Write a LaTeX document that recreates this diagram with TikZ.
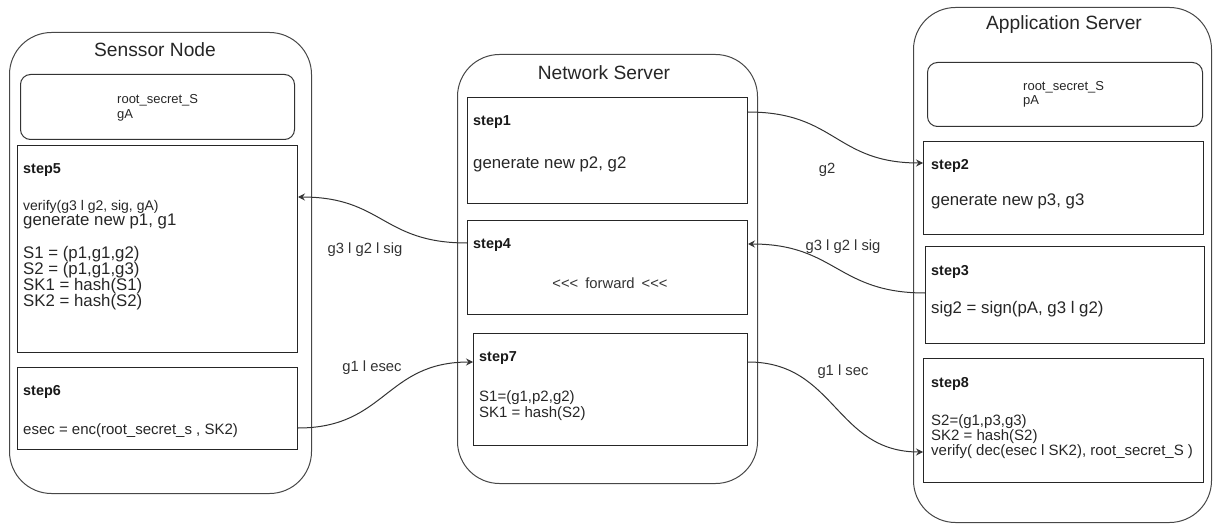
\documentclass[tikz,border=0pt]{standalone}
\usepackage{fontspec}
\setmainfont{Liberation Sans}
\usetikzlibrary{arrows.meta}
\begin{document}
\begin{tikzpicture}[x=1pt,y=-1pt,
  container/.style={draw=black!72, line width=1pt, rounded corners=42pt, anchor=north west, inner sep=0pt},
  keybox/.style={draw=black!80, line width=1pt, rounded corners=10pt, anchor=north west, inner sep=0pt},
  stepbox/.style={draw=black!85, line width=1pt, anchor=north west, inner sep=0pt},
  title/.style={inner sep=0pt, text=black!85, font=\fontsize{19.2}{20}\selectfont},
  head/.style={anchor=mid west, inner sep=0pt, text=black!90, font=\fontsize{14.4}{15}\selectfont\bfseries},
  big/.style={anchor=mid west, inner sep=0pt, text=black!85, font=\fontsize{16.8}{17}\selectfont},
  body/.style={anchor=mid west, inner sep=0pt, text=black!85, font=\fontsize{15}{16}\selectfont},
  note/.style={anchor=mid west, inner sep=0pt, text=black!85, font=\fontsize{14}{15}\selectfont},
  keytext/.style={anchor=mid west, inner sep=0pt, text=black!85, font=\fontsize{13}{14}\selectfont},
  lbl/.style={inner sep=0pt, text=black!80, font=\fontsize{14.8}{15}\selectfont},
  flow/.style={draw=black!80, line width=1pt, -{Stealth[length=7pt,width=7pt,inset=2.5pt]}}
]
\useasboundingbox (0,0) rectangle (1213,524);

% ---------- Sensor node ----------
\node[container, minimum width=302pt, minimum height=461pt] (sn) at (9,32) {};
\node[title] (snt) at (155,50) {Senssor Node};
\node[keybox, minimum width=274pt, minimum height=65pt] (snk) at (20,74) {};
\node[keytext] (snk1) at (117,101) {root\_secret\_S};
\node[keytext] (snk2) at (117,116) {gA};

\node[stepbox, minimum width=280pt, minimum height=207pt] (s5) at (17,145) {};
\node[head] (s5h) at (23,171) {step5};
\node[note] (s5a) at (23,208) {verify(g3 l g2, sig, gA)};
\node[big]  (s5b) at (23,223) {generate new p1, g1};
\node[big]  (s5c) at (23,256) {S1 = (p1,g1,g2)};
\node[big]  (s5d) at (23,272) {S2 = (p1,g1,g3)};
\node[big]  (s5e) at (23,288) {SK1 = hash(S1)};
\node[big]  (s5f) at (23,304) {SK2 = hash(S2)};

\node[stepbox, minimum width=280pt, minimum height=82pt] (s6) at (17,367) {};
\node[head] (s6h) at (23,393) {step6};
\node[body] (s6a) at (23,432) {esec = enc(root\_secret\_s , SK2)};

% ---------- Network server ----------
\node[container, minimum width=300pt, minimum height=429pt] (ns) at (457,54) {};
\node[title] (nst) at (604,73) {Network Server};

\node[stepbox, minimum width=280pt, minimum height=106pt] (s1) at (467,97) {};
\node[head] (s1h) at (473,123) {step1};
\node[big]  (s1a) at (473,166) {generate new p2, g2};

\node[stepbox, minimum width=280pt, minimum height=94pt] (s4) at (467,220) {};
\node[head] (s4h) at (473,246) {step4};
\node[lbl]  (s4a) at (610,283) {{<}{<}{<}\hspace{7pt}forward\hspace{7pt}{<}{<}{<}};

\node[stepbox, minimum width=274pt, minimum height=112pt] (s7) at (473,333) {};
\node[head] (s7h) at (479,359) {step7};
\node[body] (s7a) at (479,399) {S1=(g1,p2,g2)};
\node[body] (s7b) at (479,415) {SK1 = hash(S2)};

% ---------- Application server ----------
\node[container, minimum width=298pt, minimum height=515pt] (as) at (913,7) {};
\node[title] (ast) at (1064,25) {Application Server};
\node[keybox, minimum width=275pt, minimum height=64pt] (ask) at (927,62) {};
\node[keytext] (ask1) at (1023,88) {root\_secret\_S};
\node[keytext] (ask2) at (1023,102) {pA};

\node[stepbox, minimum width=280pt, minimum height=93pt] (s2) at (923,141) {};
\node[head] (s2h) at (931,167) {step2};
\node[big]  (s2a) at (931,203) {generate new p3, g3};

\node[stepbox, minimum width=279pt, minimum height=97pt] (s3) at (925,246) {};
\node[head] (s3h) at (931,273) {step3};
\node[big]  (s3a) at (931,311) {sig2 = sign(pA, g3 l g2)};

\node[stepbox, minimum width=280pt, minimum height=124pt] (s8) at (923,358) {};
\node[head] (s8h) at (931,385) {step8};
\node[body] (s8a) at (931,423) {S2=(g1,p3,g3)};
\node[body] (s8b) at (931,438) {SK2 = hash(S2)};
\node[body] (s8c) at (931,453) {verify( dec(esec l SK2), root\_secret\_S )};

% ---------- Messages ----------
\draw[flow] ([yshift=-15pt]s1.north east) .. controls +(88,0) and +(-88,0) .. ([yshift=-22pt]s2.north west);
\draw[flow] ([yshift=-47pt]s3.north west) .. controls +(-88,0) and +(88,0) .. ([yshift=-24pt]s4.north east);
\draw[flow] ([yshift=-23pt]s4.north west) .. controls +(-85,0) and +(85,0) .. ([yshift=-52pt]s5.north east);
\draw[flow] ([yshift=-61pt]s6.north east) .. controls +(88,0) and +(-88,0) .. ([yshift=-29pt]s7.north west);
\draw[flow] ([yshift=-29pt]s7.north east) .. controls +(88,0) and +(-88,0) .. ([yshift=-94pt]s8.north west);

\node[lbl] (l12) at (827,170) {g2};
\node[lbl] (l34) at (843,247) {g3 l g2 l sig};
\node[lbl] (l45) at (365,250) {g3 l g2 l sig};
\node[lbl] (l67) at (372,368) {g1 l esec};
\node[lbl] (l78) at (843,372) {g1 l sec};
\end{tikzpicture}
\end{document}
